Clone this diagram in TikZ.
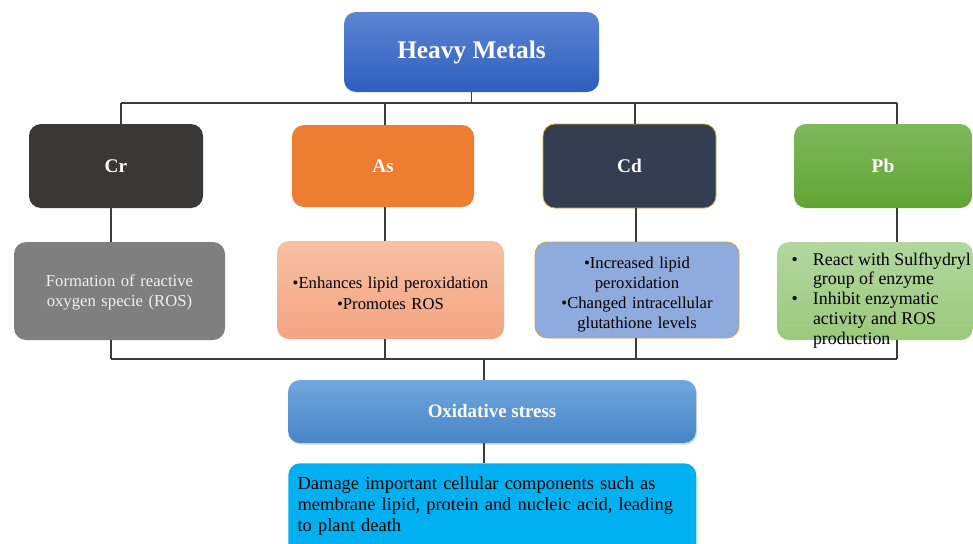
\documentclass[tikz,border=0pt]{standalone}
\usepackage{fontspec}
\setmainfont{Liberation Serif}
\usetikzlibrary{shadows}
\definecolor{linec}{HTML}{3C3C3C}
\definecolor{hmtop}{HTML}{5C85D3}
\definecolor{hmbot}{HTML}{2E5EBE}
\definecolor{crfill}{HTML}{3A3836}
\definecolor{asfill}{HTML}{ED7D31}
\definecolor{cdfill}{HTML}{333F50}
\definecolor{gold}{HTML}{D2A63A}
\definecolor{pbtop}{HTML}{80B85C}
\definecolor{pbbot}{HTML}{62A434}
\definecolor{crdfill}{HTML}{7F7F7F}
\definecolor{crdtext}{HTML}{F0F0F0}
\definecolor{asdtop}{HTML}{F6C0A3}
\definecolor{asdbot}{HTML}{F4A482}
\definecolor{cddfill}{HTML}{8FAADC}
\definecolor{pbdtop}{HTML}{B3D79F}
\definecolor{pbdbot}{HTML}{9ACA7C}
\definecolor{ostop}{HTML}{70A8DD}
\definecolor{osbot}{HTML}{4884C7}
\definecolor{dmfill}{HTML}{00B0F0}
\newcommand{\pbbul}{\makebox[27pt][l]{\hspace*{11pt}\textbullet}}
\newcommand{\pbind}{\hspace*{27pt}}
\begin{document}
\begin{tikzpicture}[x=0.75pt,y=-0.75pt,
  box/.style={rounded corners=9pt, align=center, inner sep=4pt},
  metal/.style={box, text=white, font=\fontsize{14.5}{17}\selectfont\bfseries, minimum height=63pt},
  desc/.style={box, font=\fontsize{12.5}{15.5}\selectfont, minimum height=73.5pt},
  conn/.style={draw=linec, line width=0.9pt}]
\useasboundingbox (0,0) rectangle (973,543);

% top
\node[box, top color=hmtop, bottom color=hmbot, text=white, minimum width=191.25pt, minimum height=60pt,
  font=\fontsize{19}{23}\selectfont\bfseries] (HM) at (471.5,52) {\raisebox{-3.5pt}{Heavy Metals}};

% metals
\node[metal, fill=crfill, minimum width=130.5pt] (Cr) at (116,166) {Cr};
\node[metal, fill=asfill, minimum width=136.5pt, minimum height=61.5pt] (As) at (383,166) {As};
\node[metal, fill=cdfill, draw=gold, line width=0.6pt, minimum width=129.75pt] (Cd) at (629.5,166) {Cd};
\node[metal, top color=pbtop, bottom color=pbbot, minimum width=133.5pt] (Pb) at (883,166) {Pb};

% descriptions
\node[desc, fill=crdfill, text=crdtext, minimum width=158.25pt, text width=140pt] (CrD) at (119.5,291)
  {\rule{0pt}{11pt}Formation of reactive\\oxygen specie (ROS)};
\node[desc, top color=asdtop, bottom color=asdbot, minimum width=170.25pt, text width=160pt] (AsD) at (390.5,290)
  {\rule{0pt}{13.5pt}\textbullet Enhances lipid peroxidation\\\textbullet Promotes ROS};
\node[desc, fill=cddfill, draw=gold, line width=0.6pt, minimum width=153pt, minimum height=72pt, text width=145pt,
  font=\fontsize{12.5}{15}\selectfont] (CdD) at (637,290)
  {\rule{0pt}{15pt}\textbullet Increased lipid\\peroxidation\\\textbullet Changed intracellular\\glutathione levels};
\node[desc, top color=pbdtop, bottom color=pbdbot, minimum width=147pt, inner sep=0pt,
  font=\fontsize{13.4}{14.85}\selectfont] (PbD) at (875,291)
  {\parbox[c][60pt][c]{147pt}{\raggedright\vspace*{14pt}
   \pbbul React with Sulfhydryl\\
   \pbind group of enzyme\\
   \pbbul Inhibit enzymatic\\
   \pbind activity and ROS\\
   \pbind production\par}};

% oxidative stress
\node[box, top color=ostop, bottom color=osbot, text=white, minimum width=306pt, minimum height=47.25pt,
  font=\fontsize{14.2}{17}\selectfont\bfseries,
  drop shadow={shadow xshift=0.8pt, shadow yshift=-1.2pt, opacity=0.3}] (OS) at (492,411.5) {Oxidative stress};

% damage
\node[box, fill=dmfill, anchor=north west, minimum width=306pt, text width=292pt, inner xsep=7pt, inner ysep=10pt,
  align=left, font=\fontsize{13.85}{15.75}\selectfont] (DM) at (288,463)
  {Damage important cellular components such as\\membrane lipid, protein and nucleic acid, leading\\to plant death\rule[-14pt]{0pt}{14pt}};

% connectors: top bus
\coordinate (tb1) at (121,103);
\coordinate (tb2) at (385,103);
\coordinate (tb3) at (635,103);
\coordinate (tb4) at (897,103);
\draw[conn] (HM.south) -- (HM.south |- tb1);
\draw[conn] (tb1) -- (tb4);
\draw[conn] (tb1) -- (tb1 |- Cr.north);
\draw[conn] (tb2) -- (tb2 |- As.north);
\draw[conn] (tb3) -- (tb3 |- Cd.north);
\draw[conn] (tb4) -- (tb4 |- Pb.north);

% middle links and bottom bus
\coordinate (bb1) at (111,359);
\coordinate (bb2) at (385,359);
\coordinate (bb3) at (636,359);
\coordinate (bb4) at (897,359);
\coordinate (bbo) at (484,359);
\draw[conn] (bb1 |- Cr.south) -- (bb1 |- CrD.north);
\draw[conn] (bb2 |- As.south) -- (bb2 |- AsD.north);
\draw[conn] (bb3 |- Cd.south) -- (bb3 |- CdD.north);
\draw[conn] (bb4 |- Pb.south) -- (bb4 |- PbD.north);
\draw[conn] (bb1 |- CrD.south) -- (bb1);
\draw[conn] (bb2 |- AsD.south) -- (bb2);
\draw[conn] (bb3 |- CdD.south) -- (bb3);
\draw[conn] (bb4 |- PbD.south) -- (bb4);
\draw[conn] (bb1) -- (bb4);
\draw[conn] (bbo) -- (bbo |- OS.north);
\draw[conn] (bbo |- OS.south) -- (bbo |- DM.north);
\end{tikzpicture}
\end{document}
